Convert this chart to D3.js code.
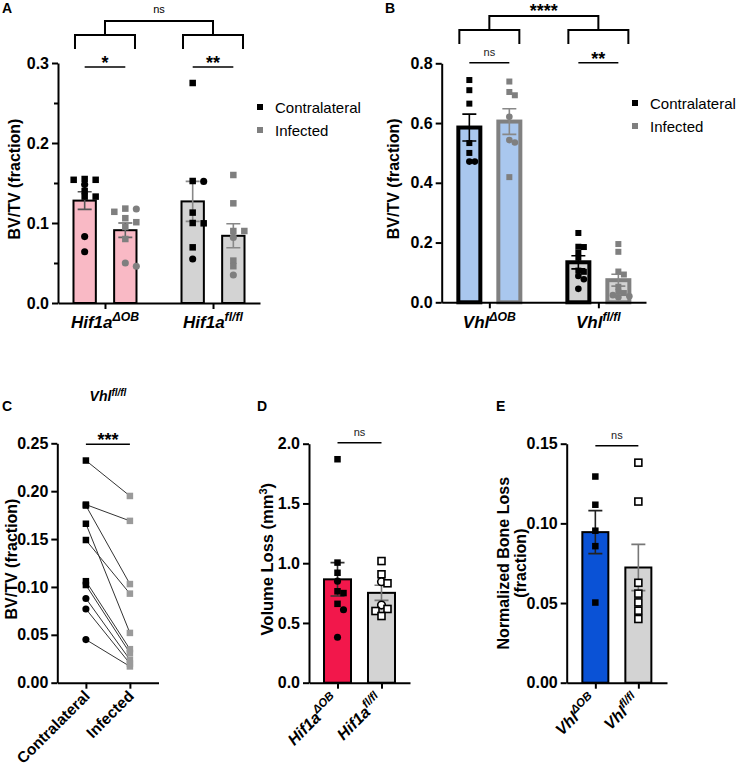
<!DOCTYPE html>
<html><head><meta charset="utf-8">
<script src="https://cdn.jsdelivr.net/npm/d3@7"></script>
<style>
body{margin:0;background:#fff}
text{font-family:"Liberation Sans",Arial,Helvetica,sans-serif}
</style></head><body>
<svg id="c" width="738" height="768"></svg>
<script>
// ---------------- DATA ----------------
// Panel A
const aGroups = [["Hif1a","ΔOB"],["Hif1a","fl/fl"]];
const aSeries = ["Contralateral","Infected"];
const aMeans = [[0.128,0.091],[0.127,0.084]];
const aSems  = [[0.011,0.009],[0.025,0.015]];
const aPoints = [
  [0.155,0.154,0.154,0.148,0.140,0.133,0.133,0.083,0.064],
  [0.118,0.1175,0.114,0.106,0.101,0.095,0.080,0.050,0.046],
  [0.275,0.1525,0.152,0.113,0.100,0.0996,0.0696,0.055],
  [0.160,0.1246,0.090,0.090,0.082,0.053,0.046,0.035]
];
const aShapes = ["ssscssscc","scssssscc","sscssssc","sssscssc"];
const aTicks = [0,0.1,0.2,0.3];
const aMinorTicks = [0.05,0.15,0.25];

// Panel B
const bGroups = [["Vhl","ΔOB"],["Vhl","fl/fl"]];
const bSeries = ["Contralateral","Infected"];
const bMeans = [[0.585,0.605],[0.134,0.074]];
const bSems  = [[0.045,0.043],[0.022,0.020]];
const bPoints = [
  [0.744,0.710,0.665,0.533,0.500,0.471,0.471],
  [0.739,0.704,0.693,0.621,0.543,0.535,0.419],
  [0.232,0.186,0.185,0.166,0.149,0.106,0.102,0.088,0.077,0.045],
  [0.195,0.169,0.103,0.052,0.093,0.035,0.031,0.024,0.020,0.017]
];
const bShapes = ["ssssscc","ssscccs","sssssssccc","sssssssccc"];
const bTicks = [0,0.2,0.4,0.6,0.8];

// Panel C (paired, Vhl fl/fl)
const cCategories = ["Contralateral","Infected"];
const cContra   = [0.232,0.186,0.185,0.166,0.149,0.106,0.102,0.088,0.077,0.045];
const cInfected = [0.195,0.169,0.103,0.052,0.093,0.035,0.031,0.024,0.020,0.017];
const cContraShapes = "sssssssccc";
const cTicks = [0,0.05,0.10,0.15,0.20,0.25];

// Panel D
const dGroups = [["Hif1a","ΔOB"],["Hif1a","fl/fl"]];
const dMeans = [0.865,0.752];
const dSems  = [0.140,0.063];
const dPoints = [
  [1.87,1.005,0.92,0.85,0.765,0.75,0.66,0.61,0.38],
  [1.018,0.907,0.845,0.832,0.65,0.617,0.60,0.558]
];
const dShapes = ["ssscssscc","sscscsss"];
const dTicks = [0,0.5,1.0,1.5,2.0];

// Panel E
const eGroups = [["Vhl","ΔOB"],["Vhl","fl/fl"]];
const eMeans = [0.0945,0.0723];
const eSems  = [0.0135,0.0145];
const ePoints = [
  [0.1294,0.1117,0.0954,0.0857,0.0503],
  [0.1381,0.1137,0.0627,0.0559,0.0504,0.0452,0.040]
];
const eShapes = ["sssss","sssssss"];
const eTicks = [0,0.05,0.10,0.15];

// ---------------- HELPERS ----------------
const svg = d3.select("#c");
const F = '"Liberation Sans",Arial,Helvetica,sans-serif';

function swarm(vals, y, thr, step){
  const idx = vals.map((v,i)=>i).sort((a,b)=>vals[b]-vals[a]);
  const placed=[], off=new Array(vals.length);
  const slots=[0,1,-1,2,-2,3,-3];
  idx.forEach(i=>{
    const py=y(vals[i]);
    for(const s of slots){
      if(!placed.some(p=>p.s===s && Math.abs(p.y-py)<thr)){off[i]=s*step;placed.push({s,y:py});break;}
    }
  });
  return off;
}

function marker(g, shape, x, y, fill, stroke, size, open){
  if(shape==="s"){
    g.append("rect").attr("x",x-size/2).attr("y",y-size/2).attr("width",size).attr("height",size)
     .attr("fill",open?"#fff":fill).attr("stroke",open?stroke:"none").attr("stroke-width",open?1.6:0);
  } else {
    g.append("circle").attr("cx",x).attr("cy",y).attr("r",size/2+0.3)
     .attr("fill",open?"#fff":fill).attr("stroke",open?stroke:"none").attr("stroke-width",open?1.6:0);
  }
}

function yAxis(g, y, x0, ticks, fmt, minor){
  const ax = g.append("g").attr("transform",`translate(${x0},0)`)
    .call(d3.axisLeft(y).tickValues(ticks).tickFormat(fmt).tickSize(6).tickSizeOuter(0).tickPadding(3));
  ax.select(".domain").attr("stroke","#000").attr("stroke-width",2);
  ax.selectAll(".tick line").attr("stroke","#000").attr("stroke-width",2);
  ax.selectAll(".tick text").attr("fill","#000").style("font-size","16px").style("font-weight","bold").style("font-family",F);
  if(minor){
    const m = g.append("g").attr("transform",`translate(${x0},0)`)
      .call(d3.axisLeft(y).tickValues(minor).tickFormat("").tickSize(4).tickSizeOuter(0));
    m.select(".domain").remove();
    m.selectAll(".tick line").attr("stroke","#000").attr("stroke-width",2);
  }
}

function xAxis(g, x, y0){
  const ax = g.append("g").attr("transform",`translate(0,${y0})`)
    .call(d3.axisBottom(x).tickFormat("").tickSize(6).tickSizeOuter(0));
  ax.select(".domain").attr("stroke","#000").attr("stroke-width",2);
  ax.selectAll(".tick line").attr("stroke","#000").attr("stroke-width",2);
}

function supLabel(g, x, y, parts, size, rotate){
  const t = g.append("text").attr("font-weight","bold").attr("font-style","italic")
    .style("font-size",size+"px").attr("fill","#000");
  if(rotate){ t.attr("transform",`translate(${x},${y}) rotate(-45)`).attr("text-anchor","end"); }
  else { t.attr("x",x).attr("y",y).attr("text-anchor","middle"); }
  t.append("tspan").text(parts[0]);
  t.append("tspan").attr("dy",-size*0.42).style("font-size",(size*0.72)+"px").text(parts[1]);
  return t;
}

function errBar(g, x, y, m, s, color, cap){
  const p = d3.path();
  p.moveTo(x, y(m+s)); p.lineTo(x, y(m-s));
  p.moveTo(x-cap/2, y(m+s)); p.lineTo(x+cap/2, y(m+s));
  p.moveTo(x-cap/2, y(m-s)); p.lineTo(x+cap/2, y(m-s));
  g.append("path").attr("d",p.toString()).attr("stroke",color).attr("stroke-width",1.6).attr("fill","none");
}

function bracket(g, x1, x2, yTop, yBot){
  g.append("path").attr("d",`M${x1},${yBot}V${yTop}H${x2}V${yBot}`)
   .attr("fill","none").attr("stroke","#000").attr("stroke-width",2);
}
function sigLine(g, x1, x2, yl, label, stars){
  g.append("line").attr("x1",x1).attr("x2",x2).attr("y1",yl).attr("y2",yl).attr("stroke","#000").attr("stroke-width",1.5);
  const t = g.append("text").attr("x",(x1+x2)/2).attr("text-anchor","middle").attr("fill", stars?"#000":"#222").text(label);
  if(stars) t.attr("y",yl+2).style("font-size","18px").style("font-weight","bold");
  else t.attr("y",yl-7).style("font-size","11px");
}
function panelLabel(x,y,s){
  svg.append("text").attr("x",x).attr("y",y).style("font-size","14px").style("font-weight","bold").text(s);
}

// ------------- grouped panels A & B -------------
function groupedPanel(o){
  const g = svg.append("g");
  const x = d3.scalePoint().domain(o.groups.map((d,i)=>i)).range([o.x0,o.x1]).padding(o.pad);
  const xs = d3.scaleBand().domain(o.series.map((d,i)=>i)).range([-o.half,o.half]).paddingInner(o.pin);
  const y = d3.scaleLinear().domain(o.domain).range([o.y0,o.y1]);
  o.groups.forEach((grp,gi)=>{
    o.series.forEach((s,si)=>{
      const cx = x(gi)+xs(si)+xs.bandwidth()/2;
      g.append("rect").attr("x",x(gi)+xs(si)).attr("width",xs.bandwidth())
        .attr("y",y(o.means[gi][si])).attr("height",y(0)-y(o.means[gi][si]))
        .attr("fill",o.fills[gi]).attr("stroke",o.strokes[si]).attr("stroke-width",o.sw);
      errBar(g, cx, y, o.means[gi][si], o.sems[gi][si], o.errColors[gi][si], 14);
      const k = gi*o.series.length+si;
      const vals = o.points[k];
      const off = swarm(vals, y, o.thr, o.step);
      vals.forEach((v,i)=>marker(g, o.shapes[k][i], cx+off[i], y(v), o.ptColors[si], null, o.ms, false));
    });
  });
  xAxis(g, x, y(0));
  yAxis(g, y, o.x0, o.ticks, d3.format(".1f"), o.minor);
  o.groups.forEach((grp,gi)=>supLabel(g, x(gi), o.labelY, grp, 17, false));
  g.append("text").attr("transform",`translate(${o.titleX},${(o.y0+o.y1)/2-4}) rotate(-90)`)
    .attr("text-anchor","middle").style("font-size","16px").style("font-weight","bold").text("BV/TV (fraction)");
  // legend
  o.series.forEach((s,si)=>{
    g.append("rect").attr("x",o.legX-3).attr("y",o.legY+si*23-3).attr("width",6).attr("height",6).attr("fill",o.ptColors[si]);
    g.append("text").attr("x",o.legX+15).attr("y",o.legY+si*23+5.5).style("font-size","15px").text(s);
  });
  // significance
  const bc = (gi,si)=>x(gi)+xs(si)+xs.bandwidth()/2;
  bracket(g, x(0), x(1), o.brTop, o.brMid);
  o.groups.forEach((grp,gi)=>bracket(g, x(gi)-30, x(gi)+30, o.brMid, o.brMid+14));
  g.append("text").attr("x",(x(0)+x(1))/2).attr("text-anchor","middle")
   .attr("y", o.topStars? o.brTop+1 : o.brTop-8)
   .style("font-size", o.topStars?"18px":"11px").style("font-weight",o.topStars?"bold":"normal").text(o.topLabel);
  o.groups.forEach((grp,gi)=>sigLine(g, bc(gi,0), bc(gi,1), o.sigY, o.sigLabels[gi], o.sigLabels[gi]!=="ns"));
}

groupedPanel({groups:aGroups, series:aSeries, means:aMeans, sems:aSems, points:aPoints, shapes:aShapes,
  x0:58, x1:260, pad:0.435, half:31.5, pin:0.45, domain:[0,0.3], y0:303, y1:63, ticks:aTicks, minor:aMinorTicks,
  fills:["#f9b9c5","#d3d3d3"], strokes:["#000","#000"], sw:2,
  errColors:[["#555","#666"],["#888","#888"]], ptColors:["#000","#7f7f7f"], step:11, thr:5.5, ms:6.5,
  labelY:328, titleX:20, legX:260, legY:107,
  brTop:21, brMid:35, topLabel:"ns", topStars:false, sigY:67, sigLabels:["*","**"]});

groupedPanel({groups:bGroups, series:bSeries, means:bMeans, sems:bSems, points:bPoints, shapes:bShapes,
  x0:441.7, x1:646, pad:0.437, half:31, pin:0.45, domain:[0,0.8], y0:302.3, y1:63.3, ticks:bTicks, minor:null,
  fills:["#a9c7ee","#d3d3d3"], strokes:["#000","#808080"], sw:4,
  errColors:[["#000","#888"],["#000","#888"]], ptColors:["#000","#7f7f7f"], step:5.5, thr:5, ms:6,
  labelY:328, titleX:399, legX:635, legY:103,
  brTop:16, brMid:30, topLabel:"****", topStars:true, sigY:62.7, sigLabels:["ns","**"]});

panelLabel(2,13,"A");
panelLabel(385,13,"B");

// ------------- Panel C -------------
(function(){
  const g = svg.append("g");
  const x = d3.scalePoint().domain(cCategories).range([57.3,158.5]).padding(0.65);
  const y = d3.scaleLinear().domain([0,0.25]).range([682.7,443.3]);
  cContra.forEach((v,i)=>{
    g.append("line").attr("x1",x(cCategories[0])).attr("y1",y(v)).attr("x2",x(cCategories[1])).attr("y2",y(cInfected[i]))
     .attr("stroke","#333").attr("stroke-width",1);
  });
  cContra.forEach((v,i)=>marker(g, cContraShapes[i], x(cCategories[0]), y(v), "#000", null, 6.5, false));
  cInfected.forEach((v,i)=>marker(g, "s", x(cCategories[1]), y(v), "#9a9a9a", null, 6.5, false));
  xAxis(g, x, y(0));
  yAxis(g, y, 57.3, cTicks, d3.format(".2f"), null);
  cCategories.forEach(c=>{
    g.append("text").attr("transform",`translate(${x(c)+5},${697}) rotate(-45)`).attr("text-anchor","end")
     .style("font-size","15.5px").style("font-weight","bold").text(c);
  });
  g.append("text").attr("transform",`translate(17,${(682.7+443.3)/2-4}) rotate(-90)`).attr("text-anchor","middle")
   .style("font-size","16px").style("font-weight","bold").text("BV/TV (fraction)");
  const t = g.append("text").attr("x",108).attr("y",401).attr("text-anchor","middle")
   .style("font-size","14px").style("font-weight","bold").style("font-style","italic");
  t.append("tspan").text("Vhl"); t.append("tspan").attr("dy",-5).style("font-size","10px").text("fl/fl");
  sigLine(g, x(cCategories[0]), x(cCategories[1]), 444.3, "***", true);
})();
panelLabel(2,411,"C");

// ------------- Panels D & E -------------
function singlePanel(o){
  const g = svg.append("g");
  const x = d3.scalePoint().domain(o.groups.map((d,i)=>i)).range([o.x0,o.x1]).padding(o.pad);
  const y = d3.scaleLinear().domain(o.domain).range([682.7,443.7]);
  o.groups.forEach((grp,gi)=>{
    g.append("rect").attr("x",x(gi)-o.bw/2).attr("width",o.bw).attr("y",y(o.means[gi])).attr("height",y(0)-y(o.means[gi]))
      .attr("fill",o.fills[gi]).attr("stroke","#000").attr("stroke-width",2);
    errBar(g, x(gi), y, o.means[gi], o.sems[gi], o.errColors[gi], 14);
    const vals=o.points[gi];
    const off = swarm(vals, y, 6, o.step);
    vals.forEach((v,i)=>marker(g, o.shapes[gi][i], x(gi)+off[i], y(v), "#000", "#000", gi===0?6.5:7, gi===1));
  });
  xAxis(g, x, y(0));
  yAxis(g, y, o.x0, o.ticks, d3.format(o.fmt), null);
  o.groups.forEach((grp,gi)=>supLabel(g, x(gi)+2, 701, grp, 16, true));
  sigLine(g, x(0), x(1), o.sigY, "ns", false);
  return g;
}

const gD = singlePanel({groups:dGroups, means:dMeans, sems:dSems, points:dPoints, shapes:dShapes,
  x0:309, x1:410, pad:0.648, bw:27, domain:[0,2], ticks:dTicks, fmt:".1f",
  fills:["#f2174b","#d3d3d3"], errColors:["#333","#777"], step:6, sigY:442.7});
(function(){
  const t = gD.append("text").attr("transform",`translate(273,${(682.7+443.7)/2-4}) rotate(-90)`).attr("text-anchor","middle")
   .style("font-size","16.5px").style("font-weight","bold");
  t.append("tspan").text("Volume Loss (mm");
  t.append("tspan").attr("dy",-6).style("font-size","11px").text("3");
  t.append("tspan").attr("dy",6).text(")");
})();
panelLabel(257,411,"D");

const gE = singlePanel({groups:eGroups, means:eMeans, sems:eSems, points:ePoints, shapes:eShapes,
  x0:566.7, x1:667, pad:0.666, bw:26, domain:[0,0.15], ticks:eTicks, fmt:".2f",
  fills:["#0a52d6","#d3d3d3"], errColors:["#222","#777"], step:6, sigY:445.7});
(function(){
  const t = gE.append("text").attr("transform",`translate(509,${(682.7+443.7)/2}) rotate(-90)`).attr("text-anchor","middle")
   .style("font-size","16px").style("font-weight","bold");
  t.append("tspan").attr("x",0).attr("dy",0).text("Normalized Bone Loss");
  t.append("tspan").attr("x",0).attr("dy",17).text("(fraction)");
})();
panelLabel(496,411,"E");
</script>
</body></html>
